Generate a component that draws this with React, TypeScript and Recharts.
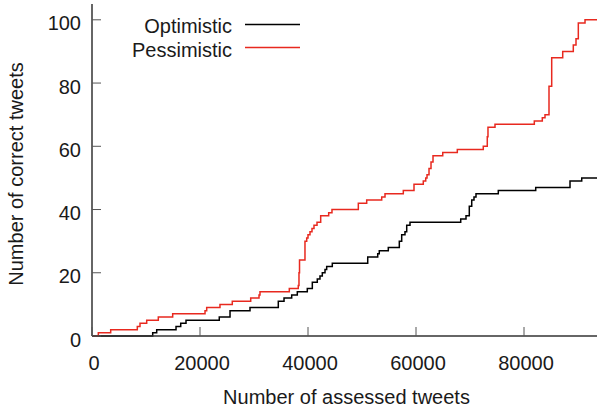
import React from 'react';
import { LineChart, Line, XAxis, YAxis } from 'recharts';

// step points: [assessed tweets, correct tweets]
const optimisticX = [0, 11240, 11980, 15560, 16430, 17410, 23570, 25560, 29260, 34500, 35560, 36980, 38020, 39870, 40800, 41720, 42220, 42650, 43150, 43460, 44500, 51060, 52910, 53200, 54870, 56910, 57350, 57960, 58280, 58890, 68280, 69260, 69870, 70320, 70740, 71110, 75240, 82170, 88520, 90690, 95000];
const optimisticY = [0, 1, 2, 3, 4, 5, 6, 8, 9, 11, 12, 13, 14, 15, 17, 18, 19, 20, 21, 22, 23, 25, 26, 27, 28, 30, 32, 33, 35, 36, 37, 38, 41, 43, 44, 45, 46, 47, 49, 50, 50];

const pessimisticX = [0, 1170, 3460, 8390, 8890, 10130, 12280, 14940, 20930, 21240, 23700, 25980, 29390, 30930, 31110, 36540, 38200, 38330, 38430, 39440, 39760, 40000, 40370, 40740, 41110, 41670, 42350, 43830, 44440, 49320, 50870, 53650, 54260, 57650, 59630, 61350, 61800, 62040, 62410, 62780, 63150, 64950, 67650, 72460, 73200, 73330, 74630, 81910, 83390, 83890, 84630, 85130, 87170, 89130, 89630, 90060, 91300, 95000];
const pessimisticY = [0, 1, 2, 3, 4, 5, 6, 7, 8, 9, 10, 11, 12, 13, 14, 15, 16, 20, 24, 30, 31, 32, 33, 34, 35, 36, 38, 39, 40, 42, 43, 44, 45, 46, 48, 49, 50, 51, 53, 55, 57, 58, 59, 60, 63, 66, 67, 68, 69, 70, 79, 88, 90, 92, 94, 99, 100, 100];

const xTicks = [0, 20000, 40000, 60000, 80000];
const yTicks = [0, 20, 40, 60, 80, 100];

const optimisticData = optimisticX.map((x, i) => ({ x, y: optimisticY[i] }));
const pessimisticData = pessimisticX.map((x, i) => ({ x, y: pessimisticY[i] }));

const FONT = '"Liberation Sans", Arial, Helvetica, sans-serif';
const AXIS = '#333';
const TICK = '#555';
const RED = '#e8291f';

const BottomTick = ({ x, y, payload }: any) => (
  <g>
    <line x1={x} x2={x} y1={y} y2={y - 9} stroke={TICK} strokeWidth={1} />
    <text x={x + 2} y={y + 27} dy="0.355em" textAnchor="middle" fontSize={20} fontFamily={FONT} fill="#1a1a1a">
      {payload.value}
    </text>
  </g>
);

const TopTick = ({ x, y }: any) => (
  <line x1={x} x2={x} y1={y} y2={y + 9} stroke={TICK} strokeWidth={1} />
);

const LeftTick = ({ x, y, payload }: any) => (
  <g>
    <line x1={x} x2={x + 9} y1={y} y2={y} stroke={TICK} strokeWidth={1} />
    <text x={x - 11} y={y + 3.5} dy="0.355em" textAnchor="end" fontSize={20} fontFamily={FONT} fill="#1a1a1a">
      {payload.value}
    </text>
  </g>
);

const RightTick = ({ x, y }: any) => (
  <line x1={x} x2={x - 9} y1={y} y2={y} stroke={TICK} strokeWidth={1} />
);

const LegendBox = () => (
  <svg width={320} height={60} style={{ position: 'absolute', left: 0, top: 0 }}>
    <text x={232} y={26} dy="0.355em" textAnchor="end" fontSize={20} fontFamily={FONT} fill="#1a1a1a">Optimistic</text>
    <line x1={245} x2={300} y1={24.5} y2={24.5} stroke="#000" strokeWidth={1.5} />
    <text x={232} y={50} dy="0.355em" textAnchor="end" fontSize={20} fontFamily={FONT} fill="#1a1a1a">Pessimistic</text>
    <line x1={245} x2={300} y1={47.5} y2={47.5} stroke={RED} strokeWidth={1.5} />
  </svg>
);

export default function App() {
  return (
    <div style={{ position: 'absolute', left: 0, top: 0, width: 597, height: 411, overflow: 'hidden', background: '#fff' }}>
      <LineChart width={610} height={411} margin={{ top: 4, right: 5, bottom: 0, left: 0 }}>
        <XAxis
          dataKey="x"
          type="number"
          domain={[0, 95000]}
          ticks={xTicks}
          allowDataOverflow
          height={75}
          stroke={AXIS}
          strokeWidth={1.5}
          tickLine={false}
          tickSize={0}
          tickMargin={0}
          tick={<BottomTick />}
          label={{
            content: ({ viewBox }: any) => (
              <text x={viewBox.x + viewBox.width / 2 - 2} y={viewBox.y + 61} dy="0.355em" textAnchor="middle" fontSize={20} fontFamily={FONT} fill="#1a1a1a">
                Number of assessed tweets
              </text>
            ),
          }}
        />
        <XAxis
          xAxisId="top"
          orientation="top"
          dataKey="x"
          type="number"
          domain={[0, 95000]}
          ticks={xTicks}
          height={0}
          stroke={AXIS}
          strokeWidth={1.5}
          tickLine={false}
          tickSize={0}
          tickMargin={0}
          tick={<TopTick />}
        />
        <YAxis
          type="number"
          domain={[0, 105]}
          ticks={yTicks}
          width={92}
          stroke={AXIS}
          strokeWidth={1.5}
          tickLine={false}
          tickSize={0}
          tickMargin={0}
          tick={<LeftTick />}
          label={{
            content: ({ viewBox }: any) => {
              const cx = viewBox.x + 16;
              const cy = viewBox.y + viewBox.height / 2 + 4;
              return (
                <text x={cx} y={cy} dy="0.355em" textAnchor="middle" fontSize={20} fontFamily={FONT} fill="#1a1a1a" transform={`rotate(-90 ${cx} ${cy})`}>
                  Number of correct tweets
                </text>
              );
            },
          }}
        />
        <YAxis
          yAxisId="right"
          orientation="right"
          type="number"
          domain={[0, 105]}
          ticks={yTicks}
          width={0}
          stroke={AXIS}
          strokeWidth={1.5}
          tickLine={false}
          tickSize={0}
          tickMargin={0}
          tick={<RightTick />}
        />
        <Line
          data={optimisticData}
          dataKey="y"
          name="Optimistic"
          type="stepAfter"
          stroke="#000"
          strokeWidth={1.5}
          dot={false}
          isAnimationActive={false}
        />
        <Line
          data={pessimisticData}
          dataKey="y"
          name="Pessimistic"
          type="stepAfter"
          stroke={RED}
          strokeWidth={1.5}
          dot={false}
          isAnimationActive={false}
        />
      </LineChart>
      <LegendBox />
    </div>
  );
}
